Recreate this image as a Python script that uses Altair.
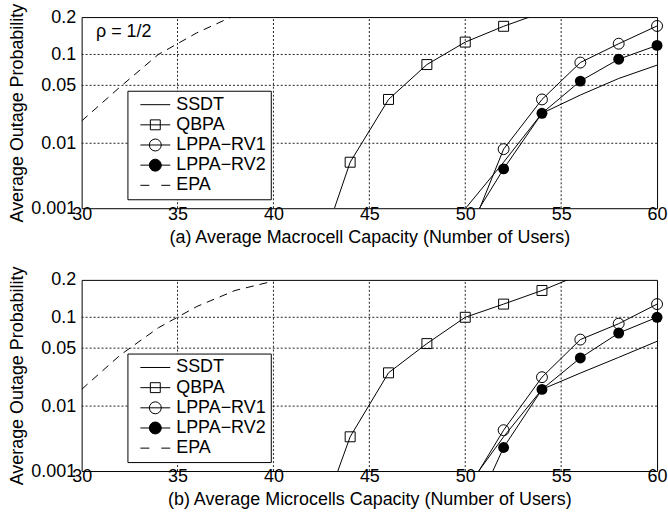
import altair as alt
import pandas as pd
from statistics import NormalDist

FONT = "Liberation Sans"
nd = NormalDist()

series_names = ["SSDT", "QBPA", "LPPA−RV1", "LPPA−RV2", "EPA"]

# ---- panel (a): macrocell ----
ssdt_a_x = [50, 52, 54, 56, 58, 60]
ssdt_a_p = [0.00098, 0.0054, 0.0242, 0.0393, 0.0589, 0.0797]
qbpa_a_x = [42, 44, 46, 48, 50, 52, 54]
qbpa_a_p = [5.4e-5, 0.0054, 0.0351, 0.0807, 0.128, 0.171, 0.215]
rv1_a_x = [50, 52, 54, 56, 58, 60]
rv1_a_p = [2.2e-4, 0.0083, 0.0351, 0.0843, 0.124, 0.172]
rv2_a_x = [50, 52, 54, 56, 58, 60]
rv2_a_p = [3.9e-4, 0.0043, 0.0242, 0.0554, 0.0906, 0.120]
epa_a_x = [30, 32, 34, 36, 38]
epa_a_p = [0.0195, 0.048, 0.100, 0.152, 0.206]

# ---- panel (b): microcells ----
ssdt_b_x = [50, 52, 54, 56, 58, 60]
ssdt_b_p = [4.7e-4, 0.0036, 0.0166, 0.0263, 0.0398, 0.0589]
qbpa_b_x = [42, 44, 46, 48, 50, 52, 54, 56]
qbpa_b_p = [4.1e-5, 0.0036, 0.0265, 0.0558, 0.100, 0.130, 0.167, 0.218]
rv1_b_x = [50, 52, 54, 56, 58, 60]
rv1_b_p = [4.0e-4, 0.00453, 0.0235, 0.0613, 0.0874, 0.130]
rv2_b_x = [50, 52, 54, 56, 58, 60]
rv2_b_p = [7.3e-5, 0.00245, 0.0166, 0.0392, 0.0712, 0.100]
epa_b_x = [30, 32, 34, 36, 38, 40]
epa_b_p = [0.0166, 0.042, 0.080, 0.124, 0.167, 0.196]

x_ticks = [30, 35, 40, 45, 50, 55, 60]
y_ticks = [0.001, 0.01, 0.05, 0.1, 0.2]
x_range = [30, 60]
p_range = [0.001, 0.2]

rows = []
def add(panel, series, xs, ps):
    for xv, pv in zip(xs, ps):
        rows.append({"panel": panel, "series": series, "x": xv, "p": pv})

add("a", "SSDT", ssdt_a_x, ssdt_a_p)
add("a", "QBPA", qbpa_a_x, qbpa_a_p)
add("a", "LPPA−RV1", rv1_a_x, rv1_a_p)
add("a", "LPPA−RV2", rv2_a_x, rv2_a_p)
add("a", "EPA", epa_a_x, epa_a_p)
add("b", "SSDT", ssdt_b_x, ssdt_b_p)
add("b", "QBPA", qbpa_b_x, qbpa_b_p)
add("b", "LPPA−RV1", rv1_b_x, rv1_b_p)
add("b", "LPPA−RV2", rv2_b_x, rv2_b_p)
add("b", "EPA", epa_b_x, epa_b_p)
df = pd.DataFrame(rows)

# dotted grid lines at the inner tick values, spanning the axis range
grid_rows = []
for xv in x_ticks[1:-1]:
    for pv in p_range:
        grid_rows.append({"g": f"x{xv}", "x": xv, "p": pv})
for pv in y_ticks[1:-1]:
    for xv in x_range:
        grid_rows.append({"g": f"y{pv}", "x": xv, "p": pv})
grid_df = pd.DataFrame(grid_rows)

legend_df = pd.DataFrame({"series": series_names})
legend_paths = [
    "M-2.5,0H2.5",
    "M-2.5,0H2.5M-0.83,-0.83H0.83V0.83H-0.83Z",
    "M-2.5,0H2.5M1,0A1,1,0,1,1,-1,0A1,1,0,1,1,1,0Z",
    "M-2.5,0H2.5M1,0A1,1,0,1,1,-1,0A1,1,0,1,1,1,0Z",
    "M-2.5,0H-1M1,0H2.5",
]
legend_fills = ["transparent", "transparent", "transparent", "black", "transparent"]
legend_strokes = ["black"] * 5

ydom = [nd.inv_cdf(p_range[0]), nd.inv_cdf(p_range[1])]
y_vals = [nd.inv_cdf(v) for v in y_ticks]

note_df = pd.DataFrame({"x": [30.75], "p": [0.141], "text": ["ρ = 1/2"]})


def make_panel(pid, xtitle, note):
    xscale = alt.Scale(domain=x_range, nice=False, zero=False)
    yscale = alt.Scale(domain=ydom, nice=False, zero=False)
    X = alt.X("x:Q", scale=xscale,
              axis=alt.Axis(values=x_ticks, title=xtitle, grid=False,
                            labelFlush=False, labelOverlap=False,
                            labelPadding=-3, titlePadding=5))
    Y = alt.Y("q:Q", scale=yscale,
              axis=alt.Axis(values=y_vals, title="Average Outage Probability",
                            labelExpr="format(cumulativeNormal(datum.value), '.1g')",
                            labelFlush=False, labelOverlap=False,
                            grid=False, labelPadding=6, titlePadding=4))
    base = (alt.Chart(df)
            .transform_filter(alt.datum.panel == pid)
            .transform_calculate(q="quantileNormal(datum.p)"))
    grid = (alt.Chart(grid_df)
            .transform_calculate(q="quantileNormal(datum.p)")
            .mark_line(color="#222222", strokeWidth=1, strokeDash=[2, 2])
            .encode(X, Y, detail="g:N"))
    solid = (base.transform_filter(alt.datum.series != "EPA")
             .mark_line(clip=True, color="black", strokeWidth=1)
             .encode(X, Y, detail="series:N"))
    dashed = (base.transform_filter(alt.datum.series == "EPA")
              .mark_line(clip=True, color="black", strokeWidth=1, strokeDash=[8, 6])
              .encode(X, Y))
    inr = base.transform_filter("datum.p >= 0.001 && datum.p <= 0.2")
    sq = (inr.transform_filter(alt.datum.series == "QBPA")
          .mark_point(shape="square", size=100, filled=False, color="black",
                      strokeWidth=1, opacity=1)
          .encode(X, Y))
    oc = (inr.transform_filter(alt.datum.series == "LPPA−RV1")
          .mark_point(shape="circle", size=120, filled=False, color="black",
                      strokeWidth=1, opacity=1)
          .encode(X, Y))
    fc = (inr.transform_filter(alt.datum.series == "LPPA−RV2")
          .mark_point(shape="circle", size=120, filled=True, color="black",
                      opacity=1)
          .encode(X, Y))
    leg = alt.Legend(title=None, orient="none", legendX=46, legendY=74,
                     fillColor="white", strokeColor="black", padding=5,
                     rowPadding=2.25, symbolSize=144, symbolStrokeWidth=1,
                     symbolStrokeColor="black", symbolOpacity=1,
                     symbolOffset=14, labelOffset=12,
                     labelFont=FONT, labelFontSize=18, labelColor="black",
                     cornerRadius=0)
    legend_layer = (alt.Chart(legend_df)
                    .mark_point(opacity=0, color="black", strokeWidth=1)
                    .encode(shape=alt.Shape("series:N",
                                            scale=alt.Scale(domain=series_names, range=legend_paths),
                                            legend=leg),
                            fill=alt.Fill("series:N",
                                          scale=alt.Scale(domain=series_names, range=legend_fills),
                                          legend=leg),
                            stroke=alt.Stroke("series:N",
                                              scale=alt.Scale(domain=series_names, range=legend_strokes),
                                              legend=leg)))
    layers = [grid, solid, dashed, sq, oc, fc, legend_layer]
    if note:
        txt = (alt.Chart(note_df)
               .transform_calculate(q="quantileNormal(datum.p)")
               .mark_text(align="left", baseline="alphabetic", font=FONT,
                          fontSize=18, color="black")
               .encode(x=alt.X("x:Q"), y=alt.Y("q:Q"), text="text:N"))
        layers.append(txt)
    return alt.layer(*layers).properties(width=578, height=192)


pa = make_panel("a", "(a) Average Macrocell Capacity (Number of Users)", True)
pb = make_panel("b", "(b) Average Microcells Capacity (Number of Users)", False)

chart = (alt.vconcat(pa, pb, spacing=18)
         .resolve_scale(shape="independent", fill="independent", stroke="independent")
         .resolve_legend(shape="independent", fill="independent", stroke="independent")
         .properties(padding={"left": 8, "top": 1, "right": 0, "bottom": 0},
                     background="white")
         .configure_view(stroke="black", strokeWidth=1)
         .configure_axis(labelFont=FONT, titleFont=FONT, labelFontSize=18,
                         titleFontSize=18, titleFontWeight="normal",
                         labelColor="black", titleColor="black",
                         domain=False, ticks=False))

chart.save("out.html", embed_options={"renderer": "svg", "actions": False})
